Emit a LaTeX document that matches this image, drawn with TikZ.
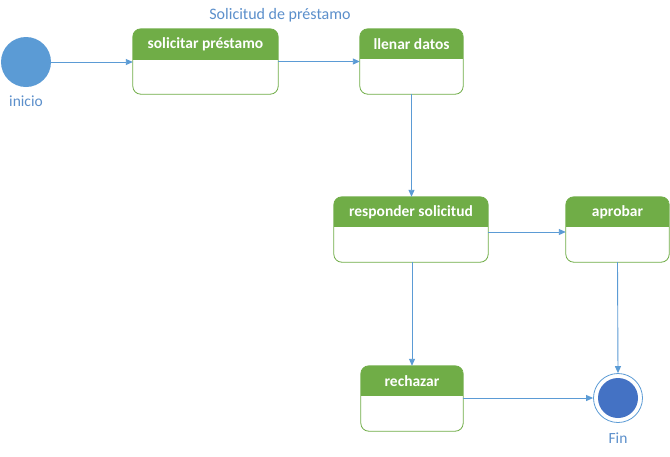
\documentclass[tikz,border=0pt]{standalone}
\usepackage{fontspec}
\setmainfont{Carlito}
\usetikzlibrary{arrows.meta}
\definecolor{hdrgreen}{HTML}{70AD47}
\definecolor{linkblue}{HTML}{5B9BD5}
\definecolor{finblue}{HTML}{4472C4}
\definecolor{txtblue}{HTML}{5B8FCB}
\begin{document}
\begin{tikzpicture}[x=1pt,y=-1pt,
  frame/.style={rectangle,draw=none,inner sep=0pt},
  hdrtext/.style={text=white,font=\fontsize{15.5}{17}\selectfont\bfseries,inner sep=0pt},
  lbl/.style={text=txtblue,font=\fontsize{15.5}{17}\selectfont,inner sep=0pt},
  arr/.style={draw=linkblue,line width=0.9pt,-{Triangle[length=7pt,width=6pt]}},
]
\useasboundingbox (0,0) rectangle (670,456);
\fill[white] (0,0) rectangle (670,456);

% state boxes: name, x1,y1,x2,y2, header bottom, text
\newcommand{\statebox}[7]{%
  \node[frame,minimum width={#4-#2},minimum height={#5-#3}] (#1) at ({(#2+#4)/2},{(#3+#5)/2}) {};
  \begin{scope}
    \clip[rounded corners=8pt] (#1.south west) rectangle (#1.north east);
    \fill[hdrgreen] (#1.north west) rectangle (#4,#6);
  \end{scope}
  \draw[hdrgreen,line width=0.8pt,rounded corners=8pt] (#1.south west) rectangle (#1.north east);
  \node[hdrtext] (#1t) at ({(#2+#4)/2},{(#3+#6)/2}) {#7};
}

\statebox{b1}{133}{29}{278}{94}{60}{solicitar préstamo}
\statebox{b2}{360}{29}{463}{94}{59}{llenar datos}
\statebox{b3}{334}{197}{488}{262}{227}{responder solicitud}
\statebox{b4}{566}{197}{669}{262}{227}{aprobar}
\statebox{b5}{361}{366}{463}{431}{396}{rechazar}

\node[lbl,font=\fontsize{16}{18}\selectfont] (title) at (280,15) {Solicitud de préstamo};

\node[circle,fill=linkblue,minimum size=50pt,inner sep=0pt] (ini) at (26,62) {};
\node[lbl] (inilbl) at (26,101) {inicio};

\node[circle,draw=linkblue,line width=0.8pt,minimum size=49pt,inner sep=0pt] (fin) at (618,398) {};
\node[circle,fill=finblue,minimum size=40pt,inner sep=0pt] (fininner) at (fin.center) {};
\node[lbl] (finlbl) at (618,438) {Fin};

\coordinate (b3r) at ([yshift=-2.5pt]b3.east);

\draw[arr] (ini) -- (b1.west |- ini);
\draw[arr] (b1.east) -- (b2.west);
\draw[arr] (b2.south) -- (b3.north -| b2.south);
\draw[arr] (b3r) -- (b4.west |- b3r);
\draw[arr] (b3.south -| b5.north) -- (b5.north);
\draw[arr] (b5.east |- fin) -- (fin.west);
\draw[arr] (b4.south) -- (fin.north);
\end{tikzpicture}
\end{document}
